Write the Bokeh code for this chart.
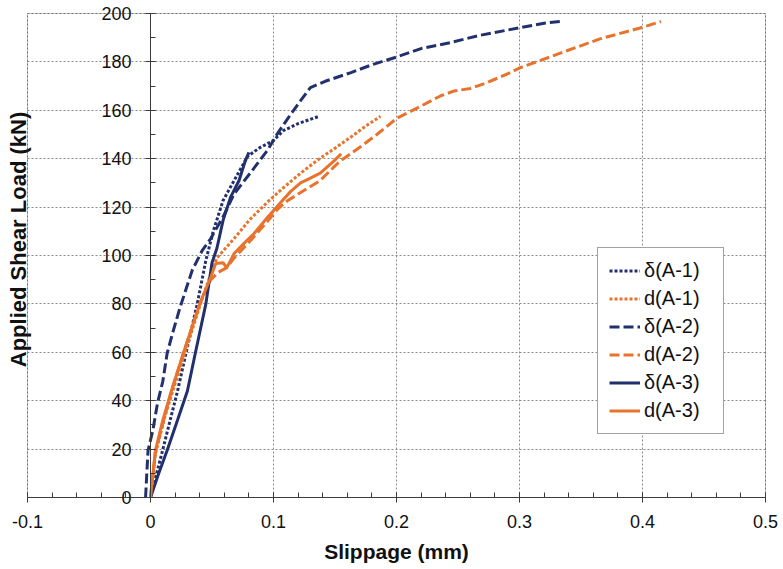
from bokeh.plotting import figure
from bokeh.models import Range1d, FixedTicker, Legend, LegendItem, Label, BoxAnnotation
from bokeh.embed import file_html
from bokeh.resources import INLINE
import numpy as np

# Slippage (mm) / applied shear load (kN) for each specimen
delta_a1_x = [0, 0.005, 0.0098, 0.016, 0.022, 0.029, 0.038, 0.045, 0.051, 0.059, 0.068,
              0.079, 0.089, 0.100, 0.108, 0.120, 0.137]
delta_a1_y = [0, 10, 19.4, 32, 44, 60, 80, 98, 110, 122.7, 131,
              141, 144.6, 147.5, 151.6, 154.5, 157.5]

d_a1_x = [0, 0.004, 0.012, 0.020, 0.030, 0.040, 0.048, 0.054, 0.068, 0.081, 0.095,
          0.108, 0.122, 0.136, 0.149, 0.163, 0.175, 0.187]
d_a1_y = [0, 18, 34, 47, 63, 79, 91, 99, 107, 115, 122,
          128, 134, 139.5, 144, 149, 153.5, 157.5]

delta_a2_x = [-0.004, -0.003, -0.002, 0.002, 0.0057, 0.010, 0.0135, 0.018, 0.024, 0.034,
              0.042, 0.049, 0.060, 0.068, 0.081, 0.095, 0.104, 0.115, 0.122, 0.130,
              0.142, 0.163, 0.181, 0.200, 0.220, 0.244, 0.268, 0.299, 0.320, 0.333]
delta_a2_y = [0, 10, 19.4, 28, 39, 48, 59.5, 68, 78.5, 94,
              102, 107, 117, 125.5, 134, 143.4, 151, 159, 164, 169.4,
              172, 175.6, 179, 182, 185.5, 188, 191, 194, 196, 196.7]

d_a2_x = [0, 0.004, 0.017, 0.027, 0.040, 0.049, 0.055, 0.062, 0.068, 0.081, 0.095,
          0.103, 0.111, 0.122, 0.138, 0.154, 0.171, 0.184, 0.200, 0.217, 0.236,
          0.247, 0.260, 0.274, 0.290, 0.301, 0.317, 0.339, 0.366, 0.398, 0.415]
d_a2_y = [0, 19, 44, 60, 80, 90, 93, 95, 99, 106, 114,
          119, 122.5, 126, 131, 139, 145, 150, 156.6, 161, 166,
          168, 169, 171.5, 175, 177.7, 180.6, 184.7, 189.6, 194, 196.7]

delta_a3_x = [0, 0.006, 0.0135, 0.022, 0.030, 0.0366, 0.045, 0.050, 0.054, 0.059,
              0.065, 0.072, 0.077, 0.080]
delta_a3_y = [0, 9, 19.4, 32, 44, 60, 80, 97, 103, 114.5,
              124, 131, 139, 142.6]

d_a3_x = [0, 0.004, 0.010, 0.017, 0.027, 0.040, 0.049, 0.053, 0.059, 0.062, 0.068,
          0.076, 0.084, 0.095, 0.106, 0.114, 0.122, 0.130, 0.138, 0.149, 0.155]
d_a3_y = [0, 19.4, 32, 44, 60, 80, 91, 96.7, 97, 95, 100.8,
          105, 109, 115.7, 122, 126.5, 130, 132, 134, 139, 142]

series_labels = ["δ(A-1)", "d(A-1)", "δ(A-2)", "d(A-2)", "δ(A-3)", "d(A-3)"]

x_tick_values = [-0.1, 0, 0.1, 0.2, 0.3, 0.4, 0.5]
x_tick_labels = ["-0.1", "0", "0.1", "0.2", "0.3", "0.4", "0.5"]
y_tick_values = [0, 20, 40, 60, 80, 100, 120, 140, 160, 180, 200]

NAVY = "#22306e"
ORANGE = "#e8732c"
FONT = "Liberation Sans"
INK = "#111111"
AXIS_COLOR = "#3a3a3a"

# Canvas and the pixel box that holds the data area; the frame spans the
# whole canvas so that labels hanging past the box are not clipped.
W, H = 783, 569
BOX_L, BOX_R, BOX_T, BOX_B = 27, 765, 13, 497
X0, X1, Y0, Y1 = -0.1, 0.5, 0, 200
sx = (X1 - X0) / (BOX_R - BOX_L)
sy = (Y1 - Y0) / (BOX_B - BOX_T)


def to_data(px, py):
    return X0 + (px - BOX_L) * sx, Y0 + (BOX_B - py) * sy


p = figure(width=W, height=H,
           x_range=Range1d(X0 - BOX_L * sx, X1 + (W - BOX_R) * sx),
           y_range=Range1d(Y0 - (H - BOX_B) * sy, Y1 + BOX_T * sy),
           output_backend="svg", toolbar_location=None, title=None,
           min_border_left=0, min_border_right=0, min_border_top=0, min_border_bottom=0)
p.background_fill_color = "white"
p.border_fill_color = "white"
p.outline_line_color = None

p.add_layout(BoxAnnotation(left=X0, right=X1, bottom=Y0, top=Y1, fill_alpha=0,
                           line_color="#454545", line_width=1, level="overlay"))

# x axis lies on zero load, Excel style tick marks
p.xaxis.fixed_location = 0
p.xaxis.bounds = (X0, X1)
p.xaxis.ticker = FixedTicker(ticks=x_tick_values,
                             minor_ticks=list(np.round(np.arange(-0.1, 0.5001, 0.02), 3)))
p.xgrid.ticker = FixedTicker(ticks=x_tick_values)
p.xaxis.major_label_overrides = dict(zip(x_tick_values, x_tick_labels))
p.xaxis.major_label_text_font = FONT
p.xaxis.major_label_text_font_size = "18px"
p.xaxis.major_label_text_color = INK
p.xaxis.major_label_standoff = 12
p.xaxis.major_tick_in = 5
p.xaxis.major_tick_out = 5
p.xaxis.minor_tick_in = 5
p.xaxis.minor_tick_out = 0
p.xaxis.axis_line_color = AXIS_COLOR
p.xaxis.major_tick_line_color = AXIS_COLOR
p.xaxis.minor_tick_line_color = AXIS_COLOR

# y axis crossing at zero slippage
p.yaxis.fixed_location = 0
p.yaxis.bounds = (Y0, Y1)
p.yaxis.ticker = FixedTicker(ticks=y_tick_values, minor_ticks=list(range(0, 201, 10)))
p.ygrid.ticker = FixedTicker(ticks=y_tick_values)
p.yaxis.major_label_text_font = FONT
p.yaxis.major_label_text_font_size = "18px"
p.yaxis.major_label_text_color = INK
p.yaxis.major_label_standoff = 14
p.yaxis.major_tick_in = 5
p.yaxis.major_tick_out = 5
p.yaxis.minor_tick_in = 5
p.yaxis.minor_tick_out = 0
p.yaxis.axis_line_color = AXIS_COLOR
p.yaxis.major_tick_line_color = AXIS_COLOR
p.yaxis.minor_tick_line_color = AXIS_COLOR

p.xgrid.bounds = (X0, X1)
p.xgrid.cross_bounds = (Y0, Y1)
p.ygrid.bounds = (Y0, Y1)
p.ygrid.cross_bounds = (X0, X1)
for g in (p.xgrid, p.ygrid):
    g.grid_line_color = "#8a8a8a"
    g.grid_line_dash = "2 2"
    g.grid_line_width = 1

tx, ty = to_data(396, 551)
p.add_layout(Label(x=tx, y=ty, text="Slippage (mm)", text_align="center",
                   text_baseline="middle", text_font=FONT, text_font_style="bold",
                   text_font_size="21px", text_color=INK))
tx, ty = to_data(18, 239)
p.add_layout(Label(x=tx, y=ty, text="Applied Shear Load (kN)", angle=np.pi / 2,
                   text_align="center", text_baseline="middle", text_font=FONT,
                   text_font_style="bold", text_font_size="22px", text_color=INK))

r1 = p.line(delta_a1_x, delta_a1_y, line_color=NAVY, line_width=3, line_dash="3 2")
r2 = p.line(d_a1_x, d_a1_y, line_color=ORANGE, line_width=3, line_dash="3 2")
r3 = p.line(delta_a2_x, delta_a2_y, line_color=NAVY, line_width=3, line_dash="10 4")
r4 = p.line(d_a2_x, d_a2_y, line_color=ORANGE, line_width=3, line_dash="10 4")
r5 = p.line(delta_a3_x, delta_a3_y, line_color=NAVY, line_width=3)
r6 = p.line(d_a3_x, d_a3_y, line_color=ORANGE, line_width=3)

legend = Legend(items=[LegendItem(label=lab, renderers=[r])
                       for lab, r in zip(series_labels, [r1, r2, r3, r4, r5, r6])],
                location=(597, H - 434), margin=0, padding=11, spacing=5,
                glyph_width=31, glyph_height=23, label_height=23, label_width=68,
                label_standoff=4, label_text_font=FONT, label_text_font_size="20px",
                label_text_color=INK, border_line_color="#454545",
                border_line_width=1, background_fill_color="white",
                background_fill_alpha=1.0)
p.add_layout(legend)

open("out.html", "w").write(file_html(p, INLINE))
